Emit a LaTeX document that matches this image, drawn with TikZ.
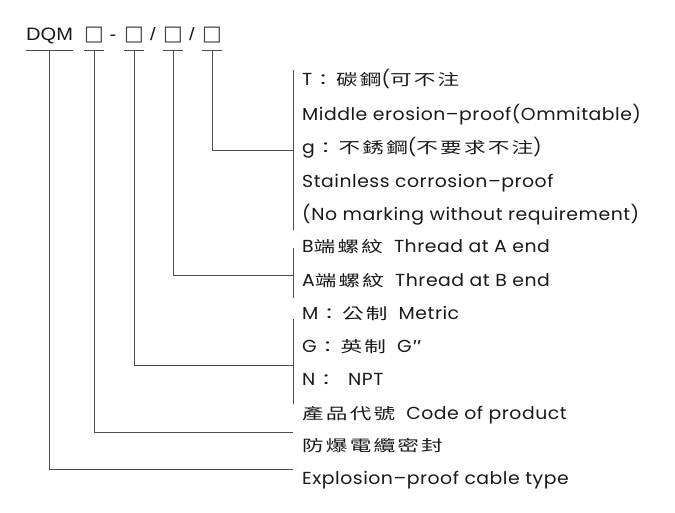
\documentclass[tikz,border=0pt]{standalone}
\usepackage{fontspec}
\setmainfont[FakeStretch=1.08, LetterSpace=3]{Poppins}
\newfontfamily\cjkfont[FakeStretch=1.4, LetterSpace=14]{Noto Sans CJK TC}
\newfontfamily\hdrfont[FakeStretch=1.12]{Liberation Sans}
\newfontfamily\symfont{DejaVu Sans}
\newcommand\zh[1]{{\cjkfont\fontsize{15.5}{18}\selectfont #1}}
\usetikzlibrary{positioning}

\begin{document}
\begin{tikzpicture}[x=1bp, y=-1bp, lead/.style={draw=black!70, line width=0.8bp}]
	\tikzset{hdr/.style={anchor=base, inner sep=0pt, text=black!90, font=\hdrfont\fontsize{18}{18}\selectfont},
		sq/.style={anchor=base, inner sep=0pt, text=black!75, font=\symfont\fontsize{21}{21}\selectfont},
		row/.style={anchor=base west, inner sep=0pt, text=black!90, font=\fontsize{17.5}{18}\selectfont}}
	\useasboundingbox (0,0) rectangle (675,513);
	% code line
	\node[hdr, anchor=base west] (dqm) at (26,41) {DQM};
	\node[sq] (bcode) at (94,41) {□};
	\node[hdr] (dash) at (113,41) {-};
	\node[sq] (bthread) at (134,41) {□};
	\node[hdr] (slash1) at (153,41) {/};
	\node[sq] (bends) at (173,41) {□};
	\node[hdr] (slash2) at (192,41) {/};
	\node[sq] (bmat) at (212,41) {□};
	\coordinate (ul) at (0,50);
	% explanations
	\node[row] (tcarbon) at (302,86) {T\zh{：碳鋼}(\zh{可不注}};
	\node[row] (tmiddle) at (302,121) {Middle erosion–proof(Ommitable)};
	\node[row] (tstain) at (302,154) {g\zh{：不銹鋼}(\zh{不要求不注})};
	\node[row] (tstainen) at (302,188) {Stainless corrosion–proof};
	\node[row] (tnomark) at (302,221) {(No marking without requirement)};
	\node[row] (tbthread) at (302,253) {B\zh{端螺紋}~ Thread at A end};
	\node[row] (tathread) at (302,286) {A\zh{端螺紋}~ Thread at B end};
	\node[row] (tmetric) at (302,319) {M\zh{：公制}~ Metric};
	\node[row] (tinch) at (302,352) {G\zh{：英制}~ G\zh{″}};
	\node[row] (tnpt) at (302,385) {N\zh{：}~ NPT};
	\node[row] (tcode) at (302,419) {\zh{產品代號}~ Code of product};
	\node[row] (tseal) at (302,451) {\zh{防爆電纜密封}};
	\node[row] (tcable) at (302,484) {Explosion–proof cable type};
	% underlines
	\draw[lead] (dqm.west |- ul) -- (dqm.east |- ul);
	\foreach \b in {bcode, bthread, bends, bmat}
		\draw[lead] (\b.west |- ul) -- (\b.east |- ul);
	% brackets
	\coordinate (rmat) at (293,150);
	\coordinate (rends) at (293,275);
	\coordinate (rthread) at (293,365);
	\coordinate (rcode) at (293,432);
	\coordinate (rdqm) at (293,469);
	\draw[lead] (293,70) -- (293,230);
	\draw[lead] (293,248) -- (293,298);
	\draw[lead] (293,319) -- (293,404);
	% leads
	\draw[lead] (bmat |- ul) |- (rmat);
	\draw[lead] (bends |- ul) |- (rends);
	\draw[lead] (bthread |- ul) |- (rthread);
	\draw[lead] (bcode |- ul) |- (rcode);
	\draw[lead] (dqm |- ul) |- (rdqm);
\end{tikzpicture}
\end{document}
